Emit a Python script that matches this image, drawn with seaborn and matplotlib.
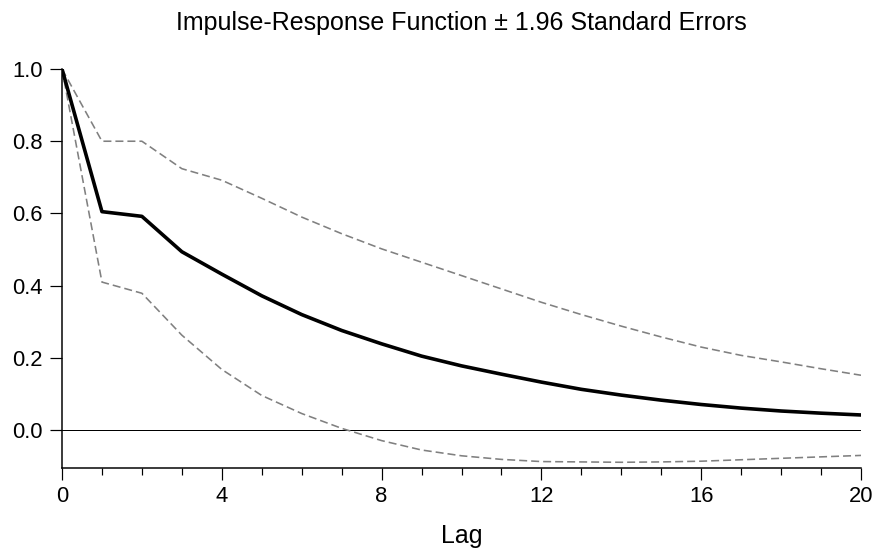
import matplotlib
matplotlib.use("Agg")
import matplotlib.pyplot as plt
import seaborn as sns
import pandas as pd
from matplotlib.ticker import MultipleLocator

lags = list(range(21))
irf = [1.0, 0.605, 0.592, 0.494, 0.432, 0.372, 0.320, 0.276, 0.239, 0.205,
       0.178, 0.155, 0.133, 0.113, 0.097, 0.083, 0.071, 0.061, 0.053, 0.047, 0.042]
upper = [1.0, 0.800, 0.800, 0.724, 0.692, 0.642, 0.590, 0.544, 0.502, 0.465,
         0.428, 0.391, 0.354, 0.320, 0.288, 0.258, 0.230, 0.207, 0.189, 0.170, 0.152]
lower = [1.0, 0.410, 0.379, 0.263, 0.168, 0.096, 0.046, 0.005, -0.029, -0.055,
         -0.071, -0.081, -0.087, -0.088, -0.089, -0.088, -0.086, -0.082, -0.078, -0.074, -0.070]
x_ticks = [0, 4, 8, 12, 16, 20]
y_ticks = [0.0, 0.2, 0.4, 0.6, 0.8, 1.0]
title = "Impulse-Response Function \u00b1 1.96 Standard Errors"
xlabel = "Lag"

df = pd.DataFrame({"lag": lags, "irf": irf, "upper": upper, "lower": lower})

sns.set_style("ticks")
plt.rcParams["font.family"] = ["Liberation Sans", "DejaVu Sans"]
plt.rcParams["text.color"] = "black"
plt.rcParams["axes.labelcolor"] = "black"

DPI = 72
fig = plt.figure(figsize=(877 / DPI, 554 / DPI), dpi=DPI)
ax = fig.add_axes([62 / 877, 1 - 467.7 / 554, (861 - 62) / 877, (467.7 - 69) / 554])

ax.axhline(0, color="black", lw=1.0, zorder=1)
sns.lineplot(data=df, x="lag", y="upper", ax=ax, color="#808080", lw=1.6,
             dashes=False, zorder=2)
sns.lineplot(data=df, x="lag", y="lower", ax=ax, color="#808080", lw=1.6,
             dashes=False, zorder=2)
for ln in ax.get_lines()[1:3]:
    ln.set_linestyle((0, (5, 2.5)))
sns.lineplot(data=df, x="lag", y="irf", ax=ax, color="black", lw=3.6, zorder=3)

ax.set_xlim(0, 20)
ax.set_ylim(-0.104, 1.0)
ax.set_xticks(x_ticks)
ax.set_xticklabels([str(v) for v in x_ticks])
ax.xaxis.set_minor_locator(MultipleLocator(1))
ax.set_yticks(y_ticks)
ax.set_yticklabels([f"{v:.1f}" for v in y_ticks])

for s in ["top", "right"]:
    ax.spines[s].set_visible(False)
for s in ["left", "bottom"]:
    ax.spines[s].set_linewidth(1.5)
    ax.spines[s].set_color("black")

ax.tick_params(axis="both", which="major", direction="out", length=12, width=1.2,
               labelsize=22, color="black", labelcolor="black")
ax.tick_params(axis="y", which="major", pad=7.5)
ax.tick_params(axis="x", which="major", pad=6)
ax.tick_params(axis="x", which="minor", direction="out", length=7, width=1.2, color="black")

ax.set_xlabel(xlabel, fontsize=25, labelpad=17, color="black")
ax.set_ylabel("")
fig.text((62 + 861) / 2 / 877, 1 - 23 / 554, title, fontsize=25,
         ha="center", va="center", color="black")

fig.savefig("out.png", dpi=DPI)
